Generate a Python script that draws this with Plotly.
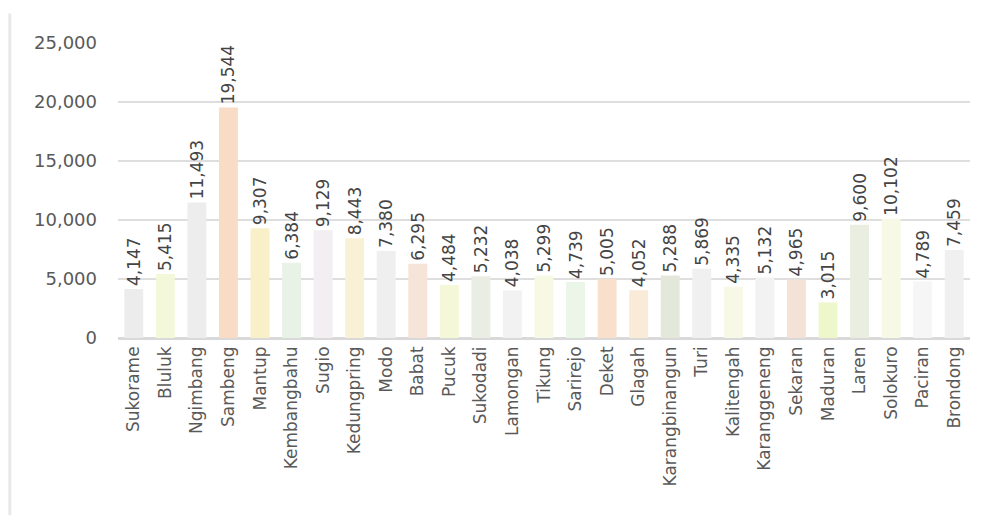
import plotly.graph_objects as go

categories = ["Sukorame", "Bluluk", "Ngimbang", "Sambeng", "Mantup", "Kembangbahu", "Sugio",
              "Kedungpring", "Modo", "Babat", "Pucuk", "Sukodadi", "Lamongan", "Tikung",
              "Sarirejo", "Deket", "Glagah", "Karangbinangun", "Turi", "Kalitengah",
              "Karanggeneng", "Sekaran", "Maduran", "Laren", "Solokuro", "Paciran", "Brondong"]
values = [4147, 5415, 11493, 19544, 9307, 6384, 9129, 8443, 7380, 6295, 4484, 5232, 4038, 5299,
          4739, 5005, 4052, 5288, 5869, 4335, 5132, 4965, 3015, 9600, 10102, 4789, 7459]
bar_colors = ["#ececec", "#f3f8da", "#ededed", "#f9dcc6", "#f9efc8", "#e8f2e6", "#f3eef1",
              "#f8f1d6", "#efefef", "#f7e4d8", "#f4f8d8", "#e9ede4", "#f2f2f2", "#f8f9e4",
              "#ebf5e8", "#f8e0cc", "#faebd8", "#e4e8da", "#f0f0f0", "#f7f9e6", "#f2f2f2",
              "#f5e2d6", "#eef6cc", "#eaeee0", "#f7f8e6", "#f6f6f6", "#f0f0f0"]
y_ticks = [0, 5000, 10000, 15000, 20000, 25000]

fig = go.Figure(go.Bar(
    x=categories, y=values,
    marker=dict(color=bar_colors, line=dict(width=0)),
    width=0.6,
    text=[f"{v:,}" for v in values],
    textposition="outside", textangle=-90, constraintext="none",
    textfont=dict(family="DejaVu Sans", size=17, color="#444444"),
    cliponaxis=False,
))

fig.update_layout(
    width=985, height=521,
    margin=dict(l=118, r=15, t=43, b=183),
    paper_bgcolor="white", plot_bgcolor="white",
    showlegend=False,
    font=dict(family="DejaVu Sans", color="#595959"),
)
fig.update_yaxes(
    range=[0, 25000], tickvals=y_ticks, tickformat=",",
    showgrid=True, gridcolor="#dedede", gridwidth=2,
    zeroline=True, zerolinecolor="#d9d9d9", zerolinewidth=3,
    tickfont=dict(size=18, color="#595959"), ticks="", ticklabelstandoff=20,
)
fig.update_xaxes(
    tickangle=-90, tickfont=dict(size=17, color="#595959"),
    showline=False, ticks="", ticklabelstandoff=4,
)
fig.add_shape(type="line", xref="paper", yref="paper", x0=-0.127, x1=-0.127, y0=-0.6, y1=1.1,
              line=dict(color="#e8e8e8", width=3))

fig.write_html("out.html")
